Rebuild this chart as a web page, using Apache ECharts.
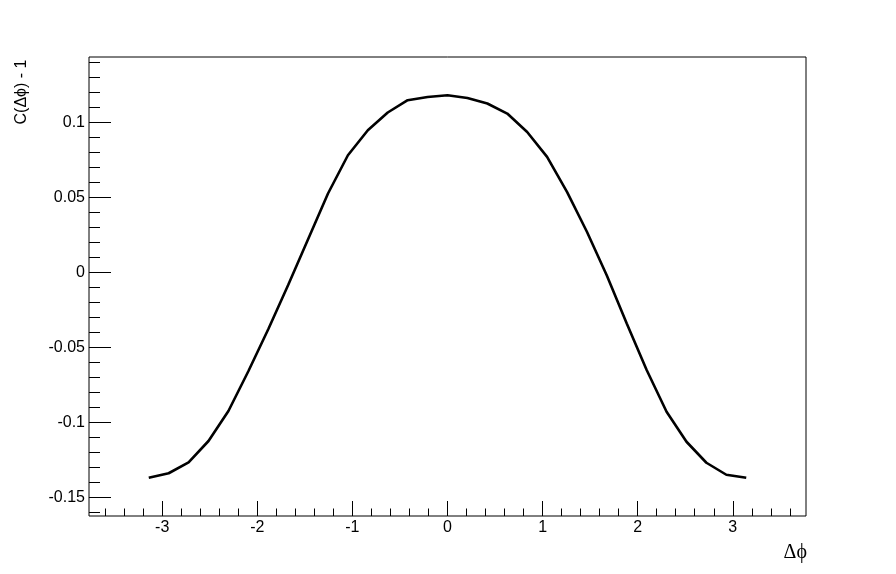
<!DOCTYPE html>
<html>
<head>
<meta charset="utf-8">
<script src="https://cdn.jsdelivr.net/npm/echarts@6/dist/echarts.min.js"></script>
<style>
  html, body { margin: 0; padding: 0; background: #fff; }
  #chart { width: 896px; height: 574px; }
</style>
</head>
<body>
<div id="chart"></div>
<script>
// delta phi (rad), 31 points from -pi to pi
var dphi = [-3.1416, -2.9322, -2.7227, -2.5133, -2.3038, -2.0944, -1.8850, -1.6755,
            -1.4661, -1.2566, -1.0472, -0.8378, -0.6283, -0.4189, -0.2094, 0,
            0.2094, 0.4189, 0.6283, 0.8378, 1.0472, 1.2566, 1.4661, 1.6755,
            1.8850, 2.0944, 2.3038, 2.5133, 2.7227, 2.9322, 3.1416];
// C(dphi) - 1
var corr = [-0.137, -0.134, -0.1268, -0.1125, -0.0925, -0.066, -0.038, -0.0085,
            0.022, 0.0525, 0.078, 0.0947, 0.1065, 0.1147, 0.1168, 0.118,
            0.1162, 0.1125, 0.1058, 0.0935, 0.0769, 0.0536, 0.027, -0.0022,
            -0.0341, -0.0652, -0.093, -0.113, -0.127, -0.135, -0.137];

var xMajor = [-3, -2, -1, 0, 1, 2, 3];
var xMinor = [-3.6, -3.4, -3.2, -2.8, -2.6, -2.4, -2.2, -1.8, -1.6, -1.4, -1.2,
              -0.8, -0.6, -0.4, -0.2, 0.2, 0.4, 0.6, 0.8, 1.2, 1.4, 1.6, 1.8,
              2.2, 2.4, 2.6, 2.8, 3.2, 3.4, 3.6];
var yMajor = [-0.15, -0.1, -0.05, 0, 0.05, 0.1];
var yMinor = [-0.16, -0.14, -0.13, -0.12, -0.11, -0.09, -0.08, -0.07, -0.06,
              -0.04, -0.03, -0.02, -0.01, 0.01, 0.02, 0.03, 0.04, 0.06, 0.07,
              0.08, 0.09, 0.11, 0.12, 0.13, 0.14];

var xMin = -3.77, xMax = 3.77;
var yMin = -0.1625, yMax = 0.1435;

var chart = echarts.init(document.getElementById('chart'), null, { renderer: 'canvas' });

var labelFont = { color: '#000', fontFamily: 'Liberation Sans', fontSize: 16 };

function xAxisOf(ticks, len, labels) {
    return {
        type: 'value', gridIndex: 0, position: 'bottom',
        min: xMin, max: xMax,
        axisLine: { show: false, onZero: false },
        splitLine: { show: false },
        axisTick: { show: true, inside: true, length: len, customValues: ticks,
                    lineStyle: { color: '#000', width: 1 } },
        axisLabel: labels ? Object.assign({ show: true, margin: 4, customValues: ticks }, labelFont)
                          : { show: false }
    };
}

function yAxisOf(ticks, len, labels) {
    return {
        type: 'value', gridIndex: 0, position: 'left',
        min: yMin, max: yMax,
        axisLine: { show: false, onZero: false },
        splitLine: { show: false },
        axisTick: { show: true, inside: true, length: len, customValues: ticks,
                    lineStyle: { color: '#000', width: 1 } },
        axisLabel: labels ? Object.assign({ show: true, margin: 4, customValues: ticks,
                                            formatter: function (v) { return String(v); } }, labelFont)
                          : { show: false }
    };
}

var option = {
    animation: false,
    backgroundColor: '#fff',
    grid: {
        left: 89, right: 90, top: 57, bottom: 58,
        show: true, borderColor: '#000', borderWidth: 1, backgroundColor: 'transparent'
    },
    xAxis: [xAxisOf(xMajor, 15, true), xAxisOf(xMinor, 7.5, false)],
    yAxis: [yAxisOf(yMajor, 22, true), yAxisOf(yMinor, 11, false)],
    graphic: [
        {
            type: 'text', x: 22, y: 92, rotation: Math.PI / 2,
            style: { text: 'C(\u0394\u03d5) - 1', fill: '#000', font: '16px "Liberation Sans"',
                     textAlign: 'center', textVerticalAlign: 'middle' }
        },
        {
            type: 'text', x: 807, y: 553,
            style: { text: '\u0394\u03d5', fill: '#000', font: '20px "Liberation Serif"',
                     textAlign: 'right', textVerticalAlign: 'middle' }
        }
    ],
    series: [{
        type: 'line',
        xAxisIndex: 0, yAxisIndex: 0,
        data: dphi.map(function (x, i) { return [x, corr[i]]; }),
        showSymbol: false,
        smooth: false,
        lineStyle: { color: '#000', width: 2.6 }
    }]
};

chart.setOption(option);
</script>
</body>
</html>
